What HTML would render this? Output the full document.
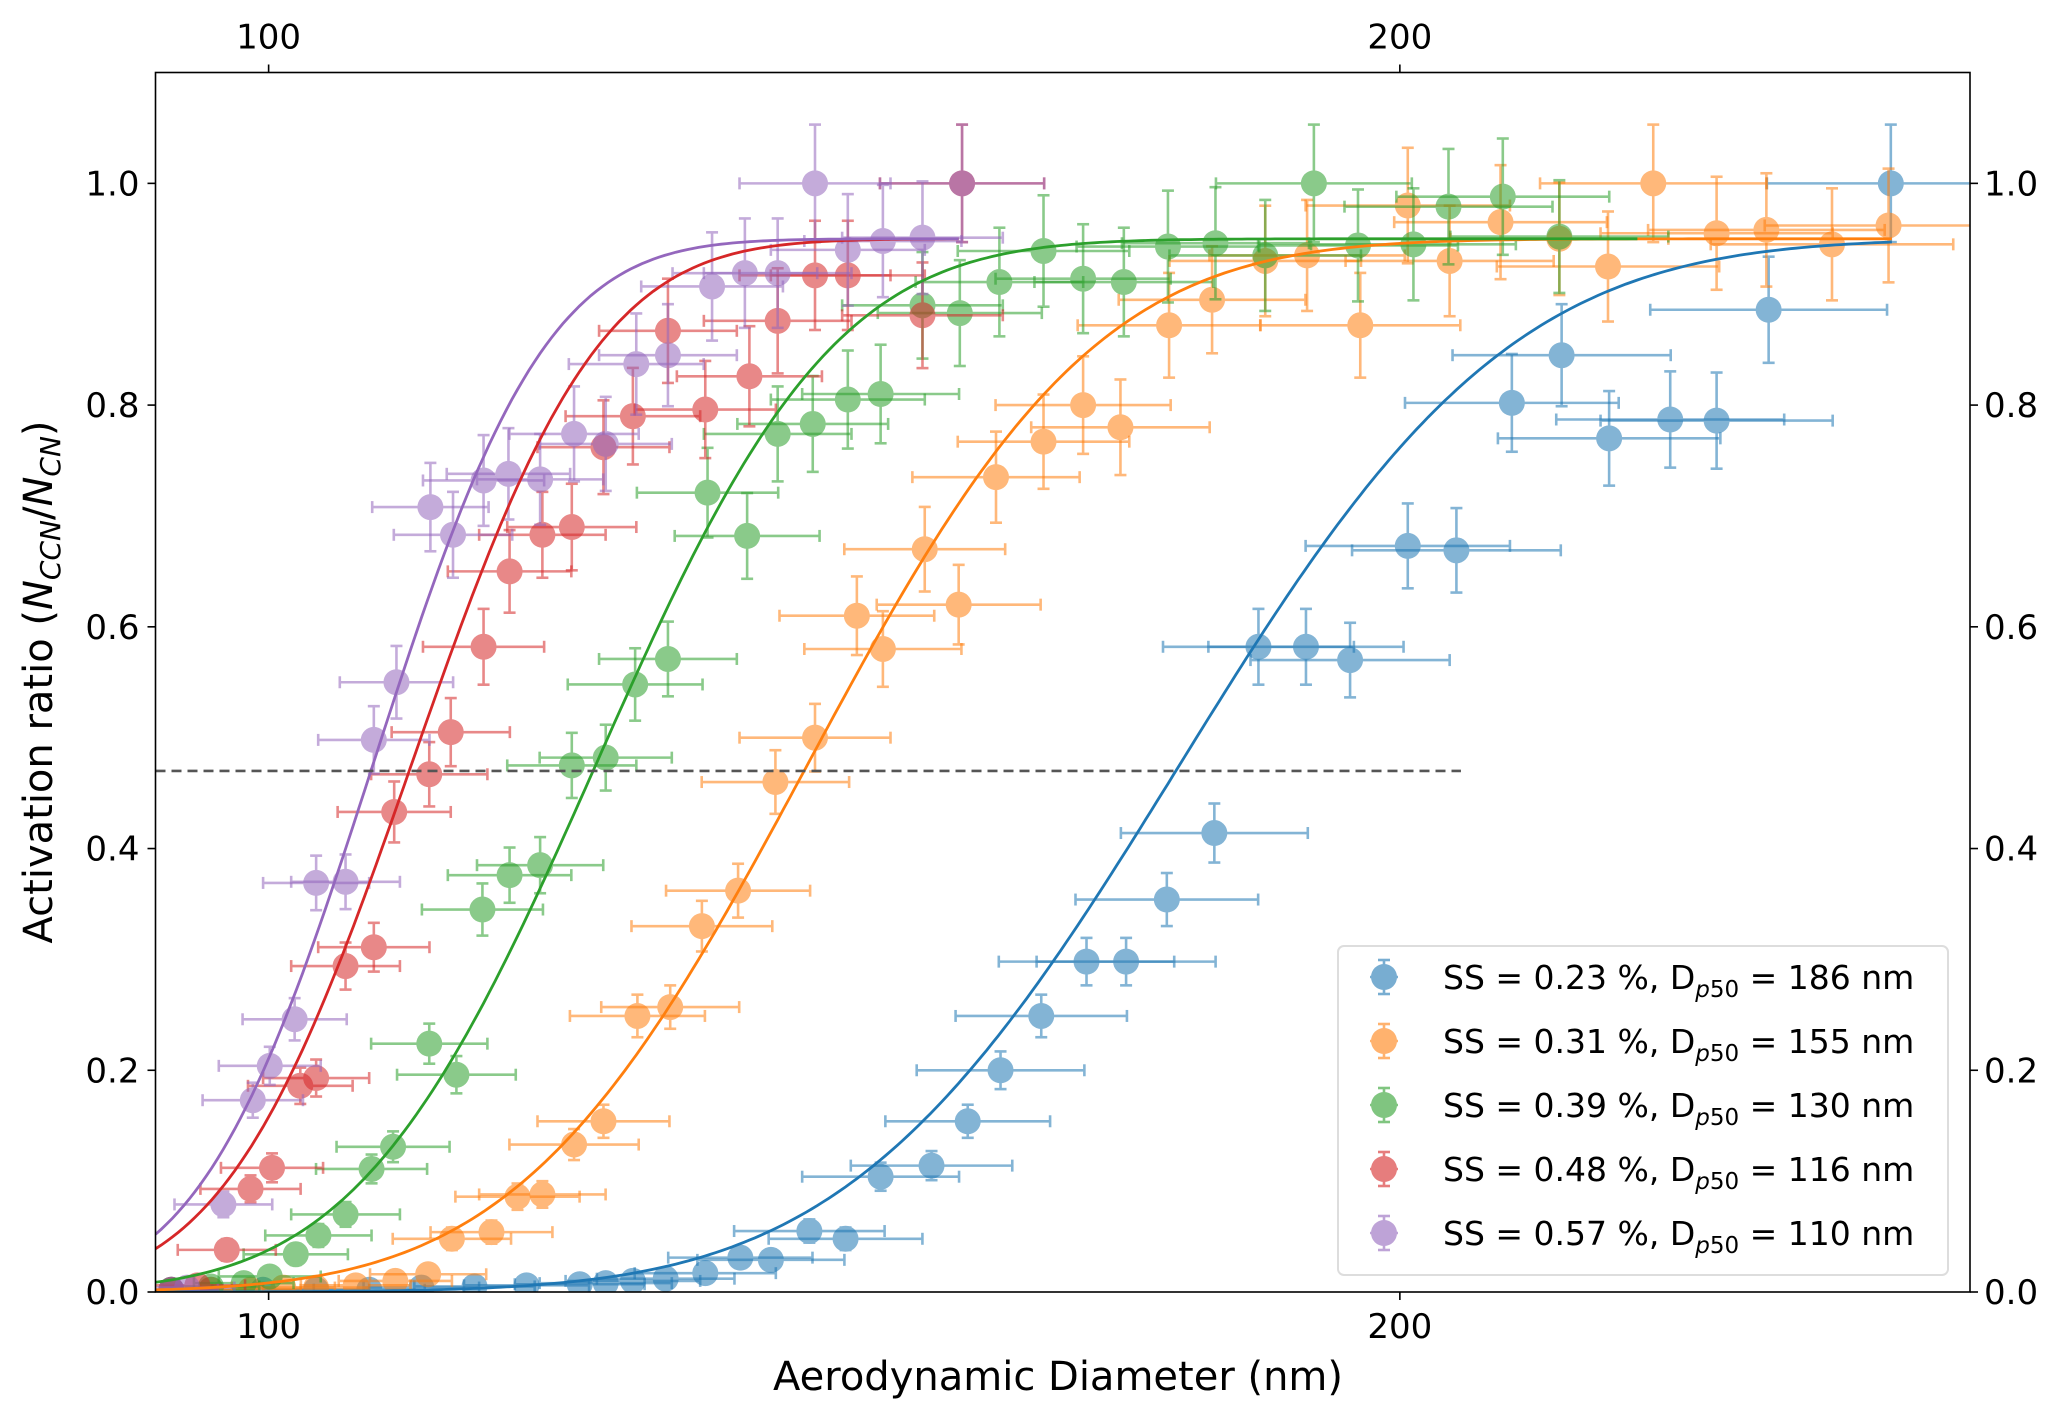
<!DOCTYPE html>
<html><head><meta charset="utf-8"><style>
html,body{margin:0;padding:0;background:#fff;}
svg{display:block;font-family:"DejaVu Sans","Liberation Sans",sans-serif;}
</style></head><body>
<svg id="chart" width="2067" height="1418" viewBox="0 0 2067 1418">
<g id="plot"></g>
</svg>
<script>
const xTicks=[100,200];
const yTicks=[0.0,0.2,0.4,0.6,0.8,1.0];
const yTickLabels=["0.0","0.2","0.4","0.6","0.8","1.0"];
const seriesNames=["SS = 0.23 %","SS = 0.31 %","SS = 0.39 %","SS = 0.48 %","SS = 0.57 %"];
const dp50Labels=["186","155","130","116","110"];
const fitX50=[180.5,147.6,128.9,112.6,109.2];
const fitWidth=[23,20,16.5,13,12];
const fitMax=[0.95,0.95,0.95,0.95,0.95];
const fitEnd=[243.5,243.5,221,161.3,161.3];
const threshold=0.47;
const thresholdEnd=205.4;
const blueX=[91.4,94.9,99.5,104.2,108.9,113.5,118.2,122.8,127.5,129.8,132.2,135.1,138.6,141.7,144.4,147.8,151.0,154.1,158.6,161.8,164.7,168.3,172.3,175.8,179.4,183.6,187.5,191.7,195.6,200.7,205.0,209.9,214.3,218.5,223.9,228.0,232.6,243.4];
const blueY=[0.002,0.002,0.002,0.002,0.002,0.004,0.005,0.006,0.007,0.008,0.01,0.012,0.017,0.031,0.029,0.055,0.048,0.104,0.114,0.154,0.2,0.249,0.298,0.298,0.354,0.414,0.582,0.582,0.570,0.673,0.669,0.802,0.845,0.770,0.787,0.786,0.886,1.0];
const orangeX=[91.4,94.9,98.4,101.3,104.2,107.7,111.2,114.1,116.2,119.7,122.0,124.2,127.0,129.6,132.6,135.5,138.3,141.5,144.8,148.3,152.0,154.3,158.0,161.0,164.3,168.5,172.0,175.3,179.6,183.4,188.1,191.8,196.5,200.7,204.4,208.9,214.1,218.4,222.4,228.0,232.4,238.2,243.2];
const orangeY=[0.001,0.002,0.002,0.004,0.004,0.006,0.01,0.016,0.048,0.054,0.086,0.088,0.133,0.154,0.249,0.257,0.33,0.362,0.46,0.5,0.61,0.58,0.67,0.62,0.735,0.767,0.8,0.78,0.872,0.895,0.93,0.935,0.872,0.98,0.93,0.965,0.95,0.925,1.0,0.955,0.958,0.945,0.962];
const greenX=[91.4,94.9,97.8,100.1,102.4,104.4,106.8,109.1,111.0,114.2,116.6,118.9,121.3,124.0,126.8,129.8,132.4,135.3,138.8,142.3,145.0,148.1,151.2,154.1,157.8,161.1,164.6,168.5,172.0,175.6,179.5,183.7,188.1,192.4,196.3,201.2,204.3,209.1,214.1];
const greenY=[0.002,0.005,0.008,0.014,0.034,0.051,0.07,0.111,0.131,0.224,0.196,0.345,0.376,0.385,0.475,0.482,0.548,0.571,0.721,0.682,0.774,0.783,0.805,0.81,0.89,0.883,0.911,0.939,0.914,0.911,0.943,0.946,0.935,1.0,0.944,0.945,0.979,0.988,0.952];
const redX=[91.4,93.7,96.3,98.4,100.3,102.8,104.2,106.8,109.3,111.1,114.2,116.1,119.0,121.3,124.2,126.8,129.6,132.2,135.3,138.6,142.5,145.0,148.3,151.2,157.8,161.3];
const redY=[0.002,0.006,0.038,0.093,0.112,0.186,0.193,0.294,0.311,0.433,0.467,0.505,0.582,0.65,0.683,0.69,0.762,0.79,0.867,0.796,0.826,0.876,0.917,0.917,0.881,1.0];
const purpleX=[91.4,92.8,96.0,98.6,100.1,102.3,104.2,106.8,109.3,111.3,114.3,116.3,119.0,121.2,124.0,127.0,129.8,132.5,135.3,139.2,142.1,145.0,148.3,151.2,154.3,157.8,161.3];
const purpleY=[0.002,0.004,0.079,0.173,0.204,0.246,0.369,0.37,0.498,0.55,0.708,0.683,0.732,0.738,0.733,0.774,0.765,0.837,0.845,0.907,0.919,0.919,1.0,0.94,0.948,0.951,1.0];

const seriesX=[blueX,orangeX,greenX,redX,purpleX];
const seriesY=[blueY,orangeY,greenY,redY,purpleY];
const colors=["#1f77b4","#ff7f0e","#2ca02c","#d62728","#9467bd"];
const keys=["blue","orange","green","red","purple"];
const L=155.5,R=1970,T=72.5,B=1292;
const X0=90,X1=250.4,Y0=0,Y1=1.1;
function sx(v){return L+(v-X0)/(X1-X0)*(R-L);}
function sy(v){return B-(v-Y0)/(Y1-Y0)*(B-T);}
function erf(x){const s=x<0?-1:1;x=Math.abs(x);const t=1/(1+0.3275911*x);const y=1-(((((1.061405429*t-1.453152027)*t)+1.421413741)*t-0.284496736)*t+0.254829592)*t*Math.exp(-x*x);return s*y;}
const NS="http://www.w3.org/2000/svg";
const svg=document.getElementById('chart');
const plot=document.getElementById('plot');
function mk(tag,attrs,parent){const e=document.createElementNS(NS,tag);for(const k in attrs)e.setAttribute(k,attrs[k]);(parent||svg).appendChild(e);return e;}

const defs=mk('defs',{});
const cp=mk('clipPath',{id:'clip'},defs);
mk('rect',{x:L,y:T,width:R-L,height:B-T},cp);
plot.setAttribute('clip-path','url(#clip)');

for(let s=0;s<5;s++){
  const g=mk('g',{},plot);
  
  
  const xs=seriesX[s],ys=seriesY[s];
  for(let i=0;i<xs.length;i++){
    const x=xs[i],y=ys[i];
    const xe=x*0.045, ye=0.008+0.045*y;
    const px=sx(x),py=sy(y);
    const pt=mk('g',{opacity:0.55},g);
    
    
    const st={stroke:colors[s],'stroke-width':2.6};
    mk('line',Object.assign({x1:sx(x-xe),x2:sx(x+xe),y1:py,y2:py},st),pt);
    mk('line',Object.assign({x1:px,x2:px,y1:sy(y-ye),y2:sy(y+ye)},st),pt);
    mk('line',Object.assign({x1:sx(x-xe),x2:sx(x-xe),y1:py-6,y2:py+6},st),pt);
    mk('line',Object.assign({x1:sx(x+xe),x2:sx(x+xe),y1:py-6,y2:py+6},st),pt);
    mk('line',Object.assign({x1:px-6,x2:px+6,y1:sy(y-ye),y2:sy(y-ye)},st),pt);
    mk('line',Object.assign({x1:px-6,x2:px+6,y1:sy(y+ye),y2:sy(y+ye)},st),pt);
    mk('circle',{cx:px,cy:py,r:13,fill:colors[s]},pt);
  }
}
for(let s=0;s<5;s++){
  let d='';
  for(let x=X0;x<=fitEnd[s];x+=0.5){
    const y=fitMax[s]*0.5*(1+erf((x-fitX50[s])/(fitWidth[s]*Math.SQRT2)));
    d+=(d?'L':'M')+sx(x).toFixed(1)+','+sy(y).toFixed(1);
  }
  const p=mk('path',{d:d,fill:'none',stroke:colors[s],'stroke-width':2.8},plot);
  
  
}
const th=mk('line',{x1:L,x2:sx(thresholdEnd),y1:sy(threshold),y2:sy(threshold),stroke:'#555','stroke-width':2.6,'stroke-dasharray':'10,6'});



const fr=mk('rect',{x:L,y:T,width:R-L,height:B-T,fill:'none',stroke:'#000','stroke-width':1.6});



xTicks.forEach(v=>{
  const x=sx(v);
  mk('line',{x1:x,x2:x,y1:B,y2:B+8,stroke:'#000','stroke-width':1.6});
  mk('line',{x1:x,x2:x,y1:T,y2:T-8,stroke:'#000','stroke-width':1.6});
  const t1=mk('text',{x:x,y:B+46,'font-size':34,'text-anchor':'middle',fill:'#000'});t1.textContent=v;
  
  
  const t2=mk('text',{x:x,y:T-24,'font-size':34,'text-anchor':'middle',fill:'#000'});t2.textContent=v;
  
  
});
yTicks.forEach((v,i)=>{
  const y=sy(v);
  mk('line',{x1:L,x2:L-8,y1:y,y2:y,stroke:'#000','stroke-width':1.6});
  mk('line',{x1:R,x2:R+8,y1:y,y2:y,stroke:'#000','stroke-width':1.6});
  const t1=mk('text',{x:L-16,y:y+12,'font-size':34,'text-anchor':'end',fill:'#000'});t1.textContent=yTickLabels[i];
  
  
  const t2=mk('text',{x:R+14,y:y+12,'font-size':34,'text-anchor':'start',fill:'#000'});t2.textContent=yTickLabels[i];
  
  
});
const xl=mk('text',{x:1058,y:1390,'font-size':40,'text-anchor':'middle',fill:'#000'});
xl.textContent='Aerodynamic Diameter (nm)';


const yl=mk('text',{x:0,y:0,'font-size':40,'text-anchor':'middle',fill:'#000',transform:'translate(52,682) rotate(-90)'});
yl.innerHTML='Activation ratio (<tspan font-style="italic">N</tspan><tspan font-style="italic" font-size="28" dy="8">CCN</tspan><tspan dy="-8">/</tspan><tspan font-style="italic">N</tspan><tspan font-style="italic" font-size="28" dy="8">CN</tspan><tspan dy="-8">)</tspan>';



const lg=mk('g',{});


mk('rect',{x:1338,y:946,width:610,height:329,rx:6,fill:'#fff','fill-opacity':0.85,stroke:'#ddd','stroke-width':2},lg);
for(let s=0;s<5;s++){
  const y=977+s*64;
  const e=mk('g',{},lg);
  
  
  const m=mk('g',{opacity:0.6},e);
  mk('line',{x1:1370,x2:1398,y1:y,y2:y,stroke:colors[s],'stroke-width':2.6},m);
  mk('line',{x1:1384,x2:1384,y1:y-17,y2:y+17,stroke:colors[s],'stroke-width':2.6},m);
  mk('line',{x1:1378,x2:1390,y1:y-17,y2:y-17,stroke:colors[s],'stroke-width':2.6},m);
  mk('line',{x1:1378,x2:1390,y1:y+17,y2:y+17,stroke:colors[s],'stroke-width':2.6},m);
  mk('circle',{cx:1384,cy:y,r:13,fill:colors[s]},m);
  const t=mk('text',{x:1443,y:y+12,'font-size':33,fill:'#000'},e);
  t.innerHTML=seriesNames[s]+', D<tspan font-size="23" dy="8" font-style="italic">p</tspan><tspan font-size="23">50</tspan><tspan dy="-8"> = '+dp50Labels[s]+' nm</tspan>';
}
</script>
</body></html>
